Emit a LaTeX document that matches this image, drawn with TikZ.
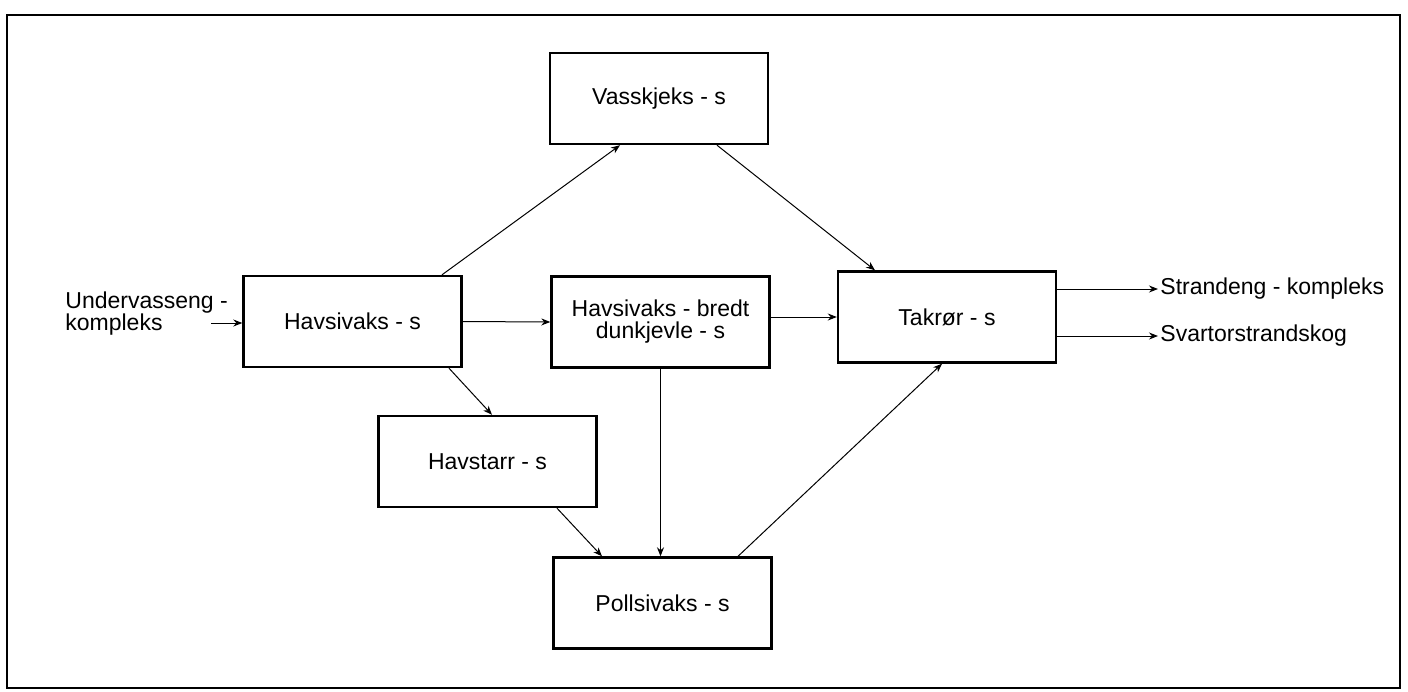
\documentclass[tikz,border=0pt]{standalone}
\usepackage{fontspec}
\setmainfont{Liberation Sans}
\usetikzlibrary{arrows.meta}

\begin{document}
\begin{tikzpicture}[x=0.5pt, y=-0.5pt, >={Stealth[length=4.5pt, width=3.5pt]},
    every node/.style={font=\fontsize{11.5}{11}\selectfont},
    box/.style={draw, line width=1.2pt, minimum width=109pt, minimum height=45.5pt, align=center, inner sep=0pt},
    arr/.style={->, line width=0.5pt}]
\useasboundingbox (0,0) rectangle (1408,691);
\draw[line width=0.7pt] (7,15) rectangle (1400,688);

% boxes
\node[box] (vas) at (659,98.5)   {Vasskjeks - s};
\node[box] (hs)  at (352.5,321.5) {Havsivaks - s};
\node[box] (hb)  at (660.5,322)  {Havsivaks - bredt\\dunkjevle - s};
\node[box] (tak) at (947,317)    {Takrør - s};
\node[box] (hst) at (487.5,461.5) {Havstarr - s};
\node[box] (pol) at (662.5,603)  {Pollsivaks - s};

% outer labels
\node[anchor=west, align=left, inner sep=0pt] (und) at (65,314) {Undervasseng -\\kompleks};
\node[anchor=west, inner sep=1pt] (str) at (1158,289) {Strandeng - kompleks};
\node[anchor=west, inner sep=1pt] (sva) at (1158,336) {Svartorstrandskog};
\coordinate (uin) at (211,323);

% arrows
\draw[arr] (uin) -- (hs.west |- uin);
\draw[arr] ([xshift=44.75pt]hs.north) -- ([xshift=-19.5pt]vas.south);
\draw[arr] (hs.east) -- (hb.west);
\draw[arr] ([xshift=48.25pt]hs.south) -- ([xshift=2.25pt]hst.north);
\draw[arr] ([xshift=34.75pt]hst.south) -- ([xshift=-30.25pt]pol.north);
\draw[arr] (hb.south) -- (hb.south |- pol.north);
\draw[arr] ([xshift=37.75pt]pol.north) -- ([xshift=-2.5pt]tak.south);
\draw[arr] ([xshift=29pt]vas.south) -- ([xshift=-36pt]tak.north);
\draw[arr] (tak.west -| hb.east) -- (tak.west);
\draw[arr] (tak.east |- str) -- (str.west);
\draw[arr] (tak.east |- sva) -- (sva.west);
\end{tikzpicture}
\end{document}
